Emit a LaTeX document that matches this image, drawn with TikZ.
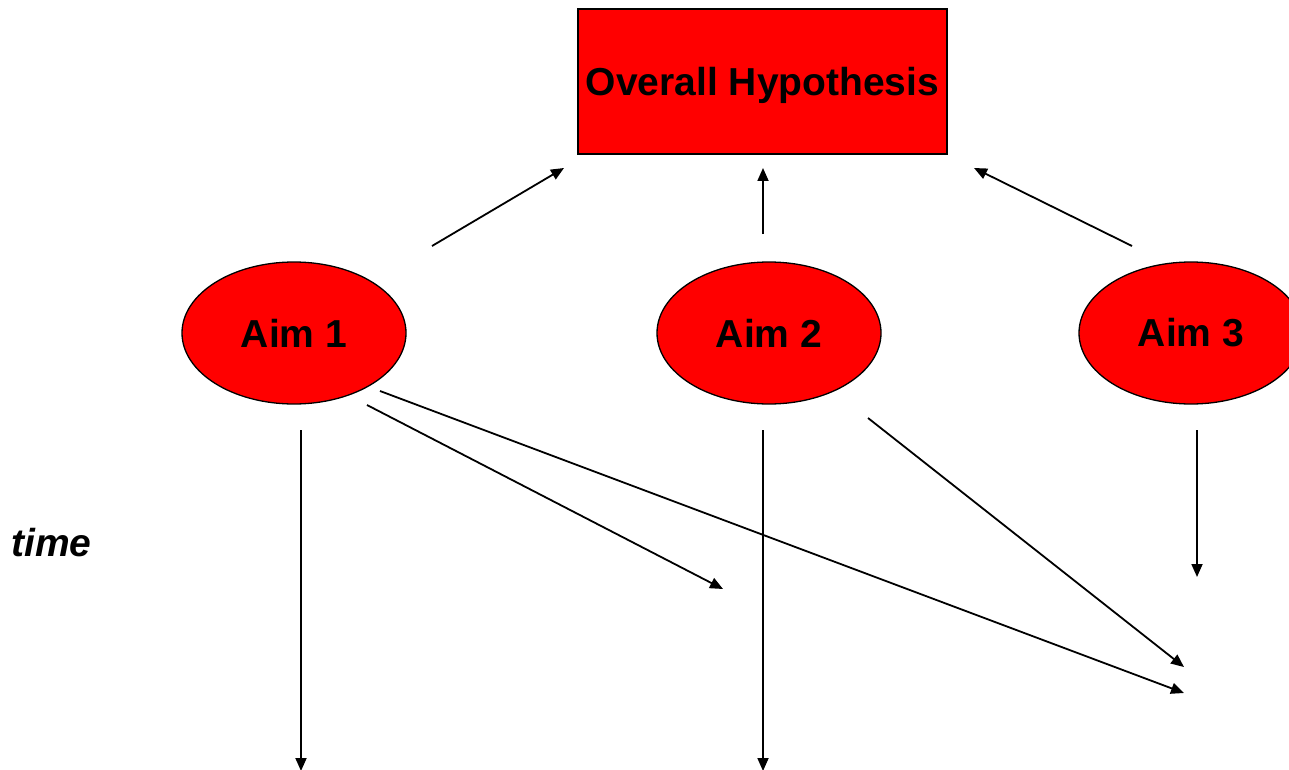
\documentclass[tikz,border=0pt]{standalone}
\usepackage{fontspec}
\setmainfont{Liberation Sans}
\usetikzlibrary{arrows.meta,shapes.geometric}
\begin{document}
\begin{tikzpicture}[x=1pt,y=-1pt,
  lbl/.style={font=\fontsize{39}{47}\selectfont\bfseries, text=black},
  hypbox/.style={draw=black, line width=1.8pt, fill=red, minimum width=369pt, minimum height=145pt, inner sep=0pt, text depth=0pt, lbl},
  aimnode/.style={ellipse, draw=black, line width=1.3pt, fill=red, minimum width=224pt, minimum height=142pt, inner sep=0pt, lbl},
  arr/.style={line width=1.8pt, -{Triangle[length=13pt,width=11pt]}}]
\useasboundingbox (0,0) rectangle (1289,770);
\node[hypbox] (hyp) at (762.5,81.5) {Overall Hypothesis};
\node[aimnode] (aim1) at (294,333) {Aim 1};
\node[aimnode] (aim2) at (769,333) {Aim 2};
\node[aimnode] (aim3) at (1191,333) {Aim 3};
\node[font=\fontsize{39}{47}\selectfont\bfseries\itshape, anchor=base west, inner sep=0pt] (time) at (11,556) {time};
% arrow end points
\coordinate (a1u) at (432,246);   \coordinate (hu1) at (564,168);
\coordinate (a2u) at (763,234);   \coordinate (hu2) at (763,168);
\coordinate (a3u) at (1132,246);  \coordinate (hu3) at (974,168);
\coordinate (a1d) at (301,430);   \coordinate (e1) at (301,771);
\coordinate (a2d) at (763,430);   \coordinate (e2) at (763,771);
\coordinate (a3d) at (1197,430);  \coordinate (e3) at (1197,577);
\coordinate (a1b) at (367,405);   \coordinate (e4) at (723,589);
\coordinate (a1c) at (380,391);   \coordinate (e5) at (1184,693);
\coordinate (a2b) at (868,418);   \coordinate (e6) at (1184,667);
\draw[arr] (a1u) -- (hu1);
\draw[arr] (a2u) -- (hu2);
\draw[arr] (a3u) -- (hu3);
\draw[arr] (a1d) -- (e1);
\draw[arr] (a2d) -- (e2);
\draw[arr] (a3d) -- (e3);
\draw[arr] (a1b) -- (e4);
\draw[arr] (a1c) -- (e5);
\draw[arr] (a2b) -- (e6);
\end{tikzpicture}
\end{document}
